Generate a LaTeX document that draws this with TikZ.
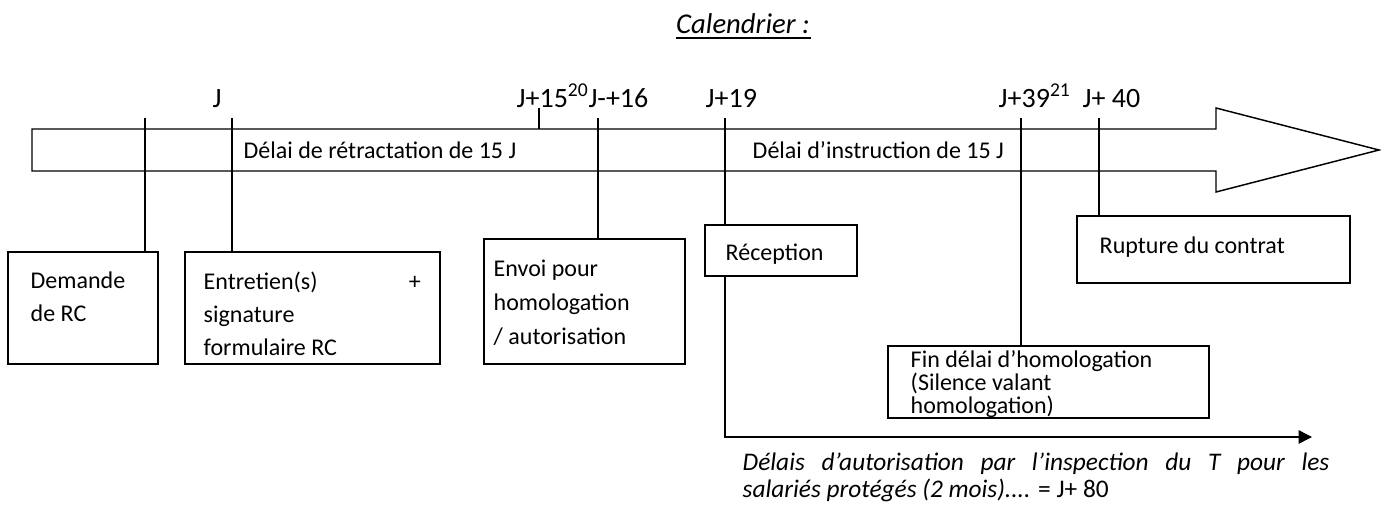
\documentclass[tikz,border=0pt]{standalone}
\usepackage{fontspec}
\setmainfont{Carlito}
\usetikzlibrary{positioning,arrows.meta,fit,calc}

\begin{document}
\begin{tikzpicture}[x=0.75pt,y=-0.75pt,line width=1.1pt,
	every node/.style={inner sep=0pt},
	cadre/.style={draw,inner sep=0pt},
	texte/.style={font=\fontsize{18}{25}\selectfont,align=flush left,anchor=north west},
	jour/.style={font=\fontsize{21}{25}\selectfont,anchor=base west}]
	\useasboundingbox (0,0) rectangle (1381,507);
	% titre
	\node[font=\fontsize{21.5}{25}\selectfont\itshape,anchor=base] (titre) at (743,33) {Calendrier :};
	\draw[line width=1.5pt] ($(titre.base west)+(0,5)$) -- ($(titre.base east)+(0,5)$);
	% la fleche du calendrier
	\draw (32,129) -- (1216,129) -- (1216,108) -- (1379,150) -- (1216,192) -- (1216,171) -- (32,171) -- cycle;
	\node[texte,anchor=west] (retract) at (243,150) {Délai de rétractation de 15 J};
	\node[texte,anchor=west] (instr) at (752,150) {Délai d’instruction de 15 J};
	% les jours
	\node[jour] (jJ) at (212,107) {J};
	\node[jour] (j15) at (516,107) {J+15\textsuperscript{20}J-+16};
	\node[jour] (j19) at (705,107) {J+19};
	\node[jour] (j39) at (998,107) {J+39\textsuperscript{21}};
	\node[jour] (j40) at (1082,107) {J+ 40};
	\coordinate (tdem) at (145,118);
	\coordinate (tJ) at (232,118);
	\coordinate (t15) at (539,108);
	\coordinate (t16) at (598,118);
	\coordinate (t19) at (725,118);
	\coordinate (t39) at (1021,118);
	\coordinate (t40) at (1099,118);
	% les cadres
	\node[cadre,fit={(8,252) (158,364)}] (dem) {};
	\node[cadre,fit={(185,252) (440,364)}] (ent) {};
	\node[cadre,fit={(484,239) (685,364)}] (env) {};
	\node[cadre,fit={(705,225) (857,276)}] (rec) {};
	\node[cadre,fit={(1077,216) (1350,283)}] (rup) {};
	\node[cadre,fit={(888,346) (1209,418)}] (fin) {};
	\node[texte] (demtxt) at (30,271) {Demande\\de RC};
	\node[texte,text width=162.75pt] (enttxt) at (203,271) {\makebox[162.75pt]{Entretien(s)\hfill+}\\signature\\formulaire RC};
	\node[texte,font=\fontsize{18}{25.5}\selectfont] (envtxt) at (493,259) {Envoi pour\\homologation\\/ autorisation};
	\node[texte] (rectxt) at (725,243) {Réception};
	\node[texte] (ruptxt) at (1099,236) {Rupture du contrat};
	\begin{scope}
		\clip (fin.north west) rectangle (fin.south east);
		\node[texte,font=\fontsize{18}{17.25}\selectfont] (fintxt) at (910,350) {Fin délai d’homologation\\(Silence valant\\homologation)};
	\end{scope}
	% les traits
	\draw (tdem) -- (tdem |- dem.north);
	\draw (tJ) -- (tJ |- ent.north);
	\draw (t15) -- (t15 |- 0,129);
	\draw (t16) -- (t16 |- env.north);
	\draw (t19) -- (t19 |- rec.north);
	\draw (t39) -- (t39 |- fin.north);
	\draw (t40) -- (t40 |- rup.north);
	% salaries proteges
	\coordinate (autfin) at (1312,437);
	\draw[-{Triangle[length=10pt,width=10pt]}] (t19 |- rec.south) |- (autfin);
	\node[texte,font=\fontsize{19}{20.25}\selectfont\itshape,text width=440pt] (legende) at (742,452) {\makebox[440pt][s]{Délais d’autorisation par l’inspection du T pour les}\\salariés protégés (2 mois).... {\upshape = J+ 80}};
\end{tikzpicture}
\end{document}
